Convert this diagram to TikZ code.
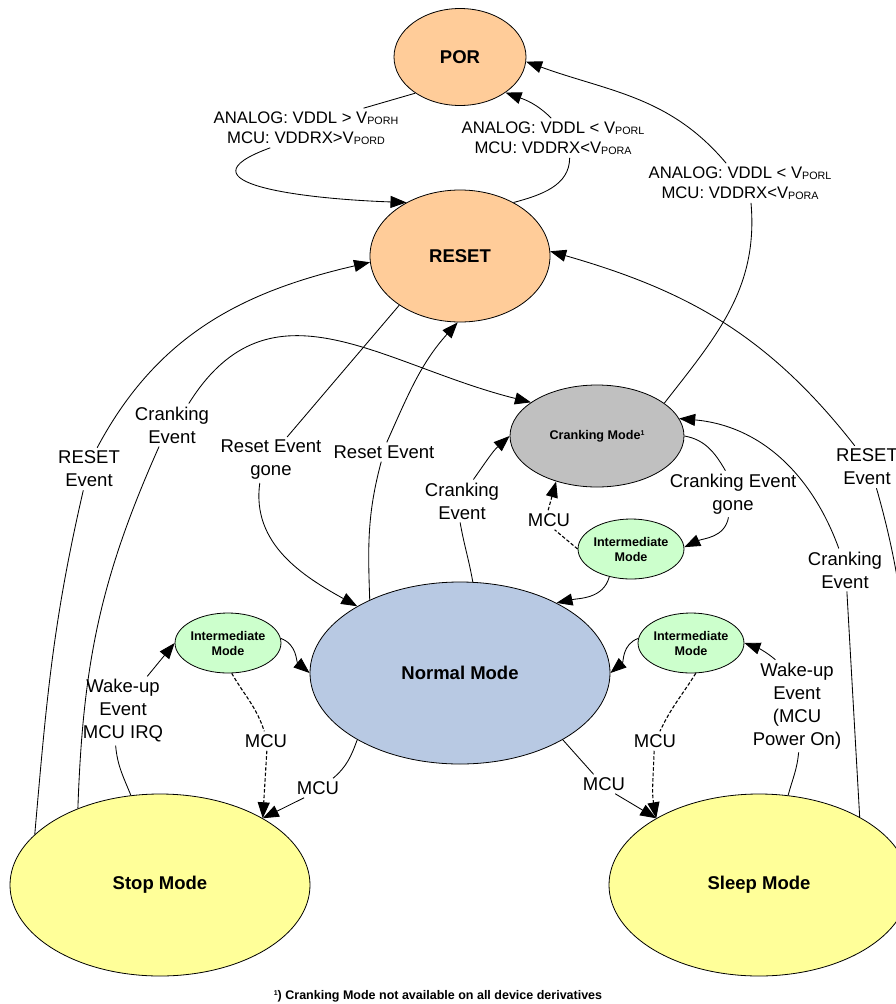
\documentclass[tikz,border=0pt]{standalone}
\usepackage{fontspec}
\setmainfont{Liberation Sans}
\usetikzlibrary{shapes.geometric, arrows.meta}

\definecolor{PorOrange}{RGB}{255,204,153}
\definecolor{CrankGray}{RGB}{192,192,192}
\definecolor{InterGreen}{RGB}{204,255,204}
\definecolor{NormalBlue}{RGB}{184,201,227}
\definecolor{StopYellow}{RGB}{255,255,153}

\newcommand{\VSub}[1]{V\raisebox{-1pt}{\fontsize{10.7}{11}\selectfont #1}}

\begin{document}
\begin{tikzpicture}[x=1pt,y=1pt]
\tikzset{StateStyle/.style = {ellipse, draw, line width=0.8pt, inner sep=0pt, align=center,
                              font=\fontsize{18.5}{22}\selectfont\bfseries},
         SmallStateStyle/.style = {StateStyle, minimum width=105pt, minimum height=60pt,
                              font=\fontsize{12.6}{15}\selectfont\bfseries},
         LabelStyle/.style = {align=center, inner sep=3pt, font=\fontsize{18.5}{23}\selectfont},
         CondStyle/.style = {align=center, inner sep=3pt, font=\fontsize{16.7}{20.5}\selectfont},
         LineStyle/.style = {line width=0.85pt},
         EdgeStyle/.style = {line width=0.85pt, -{Triangle[length=16pt,width=12pt]}},
         DashStyle/.style = {line width=1.1pt, dash pattern=on 3.5pt off 2pt}
}

    \useasboundingbox (0,0) rectangle (896,-1004);
    \clip (0,0) rectangle (896,-1004);

    % Draw states
    \node[StateStyle, fill=PorOrange, minimum width=132pt, minimum height=97pt] (por) at (460,-57) {POR};
    \node[StateStyle, fill=PorOrange, minimum width=180pt, minimum height=132pt] (reset) at (460,-256) {RESET};
    \node[StateStyle, fill=CrankGray, minimum width=174pt, minimum height=102pt,
          font=\fontsize{12.6}{15}\selectfont\bfseries] (crank) at (597,-436) {Cranking Mode\raisebox{4pt}{\fontsize{7}{7}\selectfont 1}};
    \node[SmallStateStyle, fill=InterGreen] (inter1) at (631,-549) {Intermediate\\Mode};
    \node[StateStyle, fill=NormalBlue, minimum width=300pt, minimum height=182pt] (normal) at (460,-673) {Normal Mode};
    \node[SmallStateStyle, fill=InterGreen] (inter2) at (228,-643) {Intermediate\\Mode};
    \node[SmallStateStyle, fill=InterGreen] (inter3) at (691,-643) {Intermediate\\Mode};
    \node[StateStyle, fill=StopYellow, minimum width=300pt, minimum height=182pt] (stop) at (160,-885) {Stop Mode};
    \node[StateStyle, fill=StopYellow, minimum width=300pt, minimum height=182pt] (sleep) at (759,-885) {Sleep Mode};

    % Draw labels
    \node[CondStyle] (lbl1) at (306,-128) {ANALOG: VDDL > \VSub{PORH}\\MCU: VDDRX>\VSub{PORD}};
    \node[CondStyle] (lbl2) at (553,-138) {ANALOG: VDDL < \VSub{PORL}\\MCU: VDDRX<\VSub{PORA}};
    \node[CondStyle] (lbl3) at (740,-183) {ANALOG: VDDL < \VSub{PORL}\\MCU: VDDRX<\VSub{PORA}};
    \node[LabelStyle] (lbl4) at (89,-469) {RESET\\Event};
    \node[LabelStyle] (lbl5) at (172,-425) {Cranking\\Event};
    \node[LabelStyle] (lbl6) at (271,-460) {Reset Event\\gone};
    \node[LabelStyle] (lbl7) at (384,-452) {Reset Event};
    \node[LabelStyle] (lbl8) at (462,-501) {Cranking\\Event};
    \node[LabelStyle] (lbl9) at (733,-494) {Cranking Event\\gone};
    \node[LabelStyle] (lbl10) at (549,-520) {MCU};
    \node[LabelStyle] (lbl11) at (123,-711) {Wake-up\\Event\\MCU IRQ};
    \node[LabelStyle] (lbl12) at (266,-741) {MCU};
    \node[LabelStyle] (lbl13) at (318,-788) {MCU};
    \node[LabelStyle] (lbl14) at (604,-784) {MCU};
    \node[LabelStyle] (lbl15) at (655,-741) {MCU};
    \node[LabelStyle] (lbl16) at (797,-706) {Wake-up\\Event\\(MCU\\Power On)};
    \node[LabelStyle] (lbl17) at (845,-570) {Cranking\\Event};
    \node[LabelStyle] (lbl18) at (867,-467) {RESET\\Event};

    % Draw transitions
    \draw[LineStyle] (por.219) -- (lbl1.19);
    \draw[EdgeStyle] (lbl1.209) to[out=200,in=178,looseness=1.8] (reset.135);

    \draw[LineStyle] (reset.45) to[out=15,in=270] (lbl2.310);
    \draw[EdgeStyle] (lbl2.95) to[out=135,in=340] (por.322);

    \draw[LineStyle] (crank.26) to[out=52,in=275] (lbl3.299);
    \draw[EdgeStyle] (lbl3.125) to[out=130,in=340] (por.356);

    \draw[LineStyle] (stop.158) to[out=85,in=257] (lbl4.255);
    \draw[EdgeStyle] (lbl4.69) to[out=62,in=193] (reset.184);

    \draw[LineStyle] (stop.137) to[out=88,in=246] (lbl5.239);
    \draw[EdgeStyle] (lbl5.52) to[out=58,in=166,looseness=1.15] (crank.153);

    \draw[LineStyle] (reset.219) -- (lbl6.55);
    \draw[EdgeStyle] (lbl6.244) to[out=262,in=151] (normal.147);

    \draw[LineStyle] (normal.141) to[out=92,in=255] (lbl7.254);
    \draw[EdgeStyle] (lbl7.74) to[out=66,in=228] (reset.268);

    \draw[LineStyle] (normal.82) to[out=100,in=280] (lbl8.265);
    \draw[EdgeStyle] (lbl8.62) to[out=55,in=222] (crank.180);

    \draw[LineStyle] (crank.0) to[out=-10,in=120] (lbl9.108);
    \draw[EdgeStyle] (lbl9.259) to[out=260,in=25] (inter1.2);

    \draw[LineStyle, DashStyle] (inter1.180) -- (lbl10.300);
    \draw[EdgeStyle, DashStyle] (lbl10.95) -- (crank.228);

    \draw[EdgeStyle] (inter1.232) to[out=255,in=12] (normal.36);

    \draw[EdgeStyle] (inter2.5) to[out=-20,in=140] (normal.180);

    \draw[LineStyle, DashStyle] (inter2.277) to[out=300,in=108] (lbl12.100);
    \draw[EdgeStyle, DashStyle] (lbl12.275) -- (stop.33);

    \draw[LineStyle] (stop.108) to[out=112,in=275] (lbl11.258);
    \draw[EdgeStyle] (lbl11.55) -- (inter2.180);

    \draw[LineStyle] (normal.213) to[out=250,in=40] (lbl13.33);
    \draw[EdgeStyle] (lbl13.215) -- (stop.33);

    \draw[LineStyle] (normal.327) -- (lbl14.137);
    \draw[EdgeStyle] (lbl14.319) -- (sleep.147);

    \draw[EdgeStyle] (inter3.175) to[out=200,in=40] (normal.0);

    \draw[LineStyle, DashStyle] (inter3.279) to[out=238,in=65] (lbl15.63);
    \draw[EdgeStyle, DashStyle] (lbl15.265) to[out=268,in=100] (sleep.147);

    \draw[LineStyle] (sleep.72) to[out=75,in=265] (lbl16.272);
    \draw[EdgeStyle] (lbl16.115) to[out=140,in=340] (inter3.0);

    \draw[LineStyle] (sleep.34) -- (lbl17.275);
    \draw[EdgeStyle] (lbl17.106) to[out=110,in=355] (crank.12);

    \draw[LineStyle] (sleep.5) to[out=90,in=286] (lbl18.294);
    \draw[EdgeStyle] (lbl18.120) to[out=128,in=344] (reset.3);

    % Footnote
    \node[font=\fontsize{12.5}{15}\selectfont\bfseries] (note) at (438,-996)
        {\raisebox{4pt}{\fontsize{7}{7}\selectfont 1}) Cranking Mode not available on all device derivatives};
\end{tikzpicture}
\end{document}
